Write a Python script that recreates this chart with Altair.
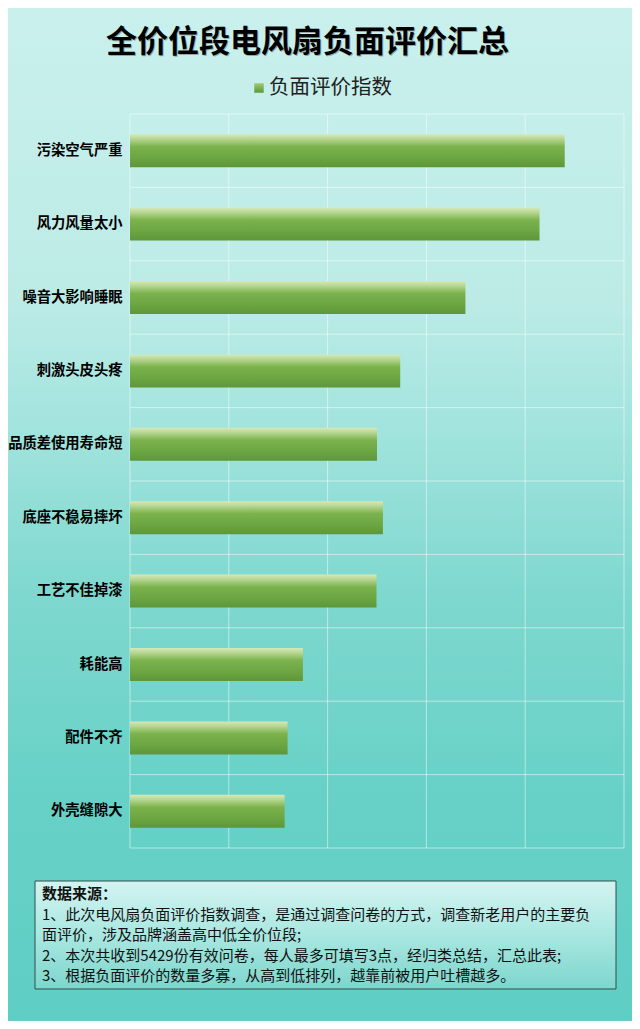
import altair as alt
import pandas as pd

# ---- data ----
categories = ["污染空气严重", "风力风量太小", "噪音大影响睡眠", "刺激头皮头疼", "品质差使用寿命短",
              "底座不稳易摔坏", "工艺不佳掉漆", "耗能高", "配件不齐", "外壳缝隙大"]
values = [88.0, 82.9, 67.9, 54.7, 50.0, 51.2, 49.9, 35.0, 31.9, 31.3]
x_ticks = [0, 20, 40, 60, 80, 100]
row_bounds = list(range(len(categories) + 1))

title_text = "全价位段电风扇负面评价汇总"
legend_text = "负面评价指数"
note_head = "数据来源："
note_lines = [
    "1、此次电风扇负面评价指数调查，是通过调查问卷的方式，调查新老用户的主要负",
    "面评价，涉及品牌涵盖高中低全价位段;",
    "2、本次共收到5429份有效问卷，每人最多可填写3点，经归类总结，汇总此表;",
    "3、根据负面评价的数量多寡，从高到低排列，越靠前被用户吐槽越多。",
]

df = pd.DataFrame({"category": categories, "value": values})
one = pd.DataFrame({"a": [0]})

W, H = 494, 734
PL, PT, PR, PB = 122, 106, 8, 173
CJK = "Noto Sans CJK SC"

bg_grad = alt.Gradient(
    gradient="linear", x1=0, x2=0, y1=0, y2=1,
    stops=[
        alt.GradientStop(color="#c9f0ed", offset=0),
        alt.GradientStop(color="#bcebe6", offset=0.29),
        alt.GradientStop(color="#a3e4de", offset=0.41),
        alt.GradientStop(color="#7ed8cf", offset=0.58),
        alt.GradientStop(color="#67d1c7", offset=0.78),
        alt.GradientStop(color="#5fcec4", offset=1),
    ],
)
bar_grad = alt.Gradient(
    gradient="linear", x1=0, x2=0, y1=0, y2=1,
    stops=[
        alt.GradientStop(color="#d6e9b8", offset=0),
        alt.GradientStop(color="#b5d690", offset=0.15),
        alt.GradientStop(color="#7bb24c", offset=0.38),
        alt.GradientStop(color="#6ca743", offset=0.7),
        alt.GradientStop(color="#5e9639", offset=1),
    ],
)
box_grad = alt.Gradient(
    gradient="linear", x1=0, x2=0, y1=0, y2=1,
    stops=[
        alt.GradientStop(color="#d4f4f1", offset=0),
        alt.GradientStop(color="#a9e7e1", offset=0.5),
        alt.GradientStop(color="#7dd6cd", offset=1),
    ],
)
sym_grad = alt.Gradient(
    gradient="linear", x1=0, x2=0, y1=0, y2=1,
    stops=[
        alt.GradientStop(color="#9ccb6f", offset=0),
        alt.GradientStop(color="#5e9639", offset=1),
    ],
)

xscale = alt.Scale(domain=[0, 100], nice=False, zero=True)

bg = alt.Chart(one).mark_rect(fill=bg_grad).encode(
    x=alt.value(-PL), x2=alt.value(W + PR), y=alt.value(-PT), y2=alt.value(H + PB)
)

vgrid = alt.Chart(pd.DataFrame({"tick": x_ticks})).mark_rule(
    color="white", opacity=0.5, strokeWidth=1
).encode(x=alt.X("tick:Q", scale=xscale, axis=None))

hgrid = alt.Chart(pd.DataFrame({"b": row_bounds})).mark_rule(
    color="white", opacity=0.5, strokeWidth=1
).encode(y=alt.Y("b:Q", scale=alt.Scale(domain=[0, len(categories)], nice=False), axis=None))

bars = alt.Chart(df).mark_bar(fill=bar_grad).encode(
    x=alt.X("value:Q", scale=xscale, axis=None),
    y=alt.Y(
        "category:N", sort=categories,
        scale=alt.Scale(paddingInner=0.55, paddingOuter=0.275),
        axis=alt.Axis(title=None, labelFontSize=14.3, labelFontWeight="bold", labelColor="#000000",
                      labelFont=CJK, domain=False, ticks=False, grid=False, labelPadding=8,
                      zindex=2, orient="left"),
    ),
)

title_shadow = alt.Chart(one).mark_text(
    text=title_text, font=CJK, fontSize=31, fontWeight="bold", color="#555555", opacity=0.45,
    align="center", baseline="middle"
).encode(x=alt.value(178.5), y=alt.value(-70))
title = alt.Chart(one).mark_text(
    text=title_text, font=CJK, fontSize=31, fontWeight="bold", color="#000000",
    align="center", baseline="middle"
).encode(x=alt.value(177.5), y=alt.value(-71))

leg_sym = alt.Chart(one).mark_square(size=90, fill=sym_grad, opacity=1).encode(
    x=alt.value(129), y=alt.value(-26)
)
leg_txt = alt.Chart(one).mark_text(
    text=legend_text, font=CJK, fontSize=20.5, color="#222222", align="left", baseline="middle"
).encode(x=alt.value(139), y=alt.value(-26))

box = alt.Chart(one).mark_rect(fill=box_grad, stroke="#2f4f4c", strokeWidth=1).encode(
    x=alt.value(-95), x2=alt.value(486), y=alt.value(767), y2=alt.value(875)
)
head = alt.Chart(one).mark_text(
    text=note_head, font=CJK, fontSize=15, fontWeight="bold", color="#111111",
    align="left", baseline="middle"
).encode(x=alt.value(-88), y=alt.value(780))
body = alt.Chart(one).mark_text(
    text="\n".join(note_lines), lineBreak="\n", lineHeight=20.3, font=CJK, fontSize=15,
    color="#111111", align="left", baseline="top"
).encode(x=alt.value(-88), y=alt.value(794))

chart = alt.layer(
    bg, vgrid, hgrid, bars, title_shadow, title, leg_sym, leg_txt, box, head, body
).resolve_scale(y="independent").properties(
    width=W, height=H, autosize="none",
    padding={"left": PL, "top": PT, "right": PR, "bottom": PB},
    background="#5fcec4",
).configure_view(stroke=None)

chart.save("out.html", embed_options={"renderer": "svg", "actions": False})
